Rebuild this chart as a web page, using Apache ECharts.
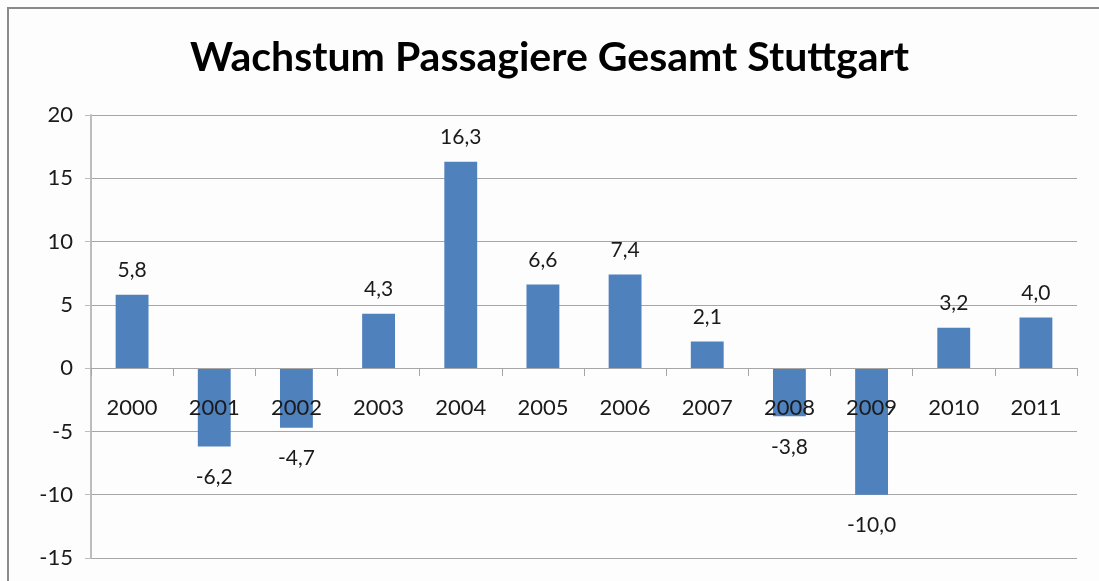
<!DOCTYPE html>
<html>
<head>
<meta charset="utf-8">
<script src="https://cdn.jsdelivr.net/npm/echarts@6/dist/echarts.min.js"></script>
<style>
  html, body { margin: 0; padding: 0; background: #fdfdfd; }
  #chart { width: 1099px; height: 581px; }
</style>
</head>
<body>
<div id="chart"></div>
<script>
// Jahre und Wachstum in Prozent
const years = ["2000", "2001", "2002", "2003", "2004", "2005", "2006", "2007", "2008", "2009", "2010", "2011"];
const growth = [5.8, -6.2, -4.7, 4.3, 16.3, 6.6, 7.4, 2.1, -3.8, -10.0, 3.2, 4.0];
const yTicks = [-15, -10, -5, 0, 5, 10, 15, 20];

const chart = echarts.init(document.getElementById("chart"));

const fmt = (v) => v.toFixed(1).replace(".", ",");

chart.setOption({
  backgroundColor: "#fdfdfd",
  animation: false,
  textStyle: { fontFamily: "Lato" },
  title: {
    text: "Wachstum Passagiere Gesamt Stuttgart",
    left: "center",
    top: 32,
    textStyle: { fontFamily: "Lato", fontWeight: "bold", fontSize: 41, color: "#000" },
  },
  graphic: [
    {
      type: "rect",
      shape: { x: 8, y: 8, width: 1200, height: 700 },
      style: { fill: "none", stroke: "#8a8a8a", lineWidth: 2 },
      silent: true,
    },
  ],
  grid: { left: 91, right: 22, top: 115, bottom: 23, outerBoundsMode: "none" },
  xAxis: {
    type: "category",
    data: years,
    offset: -190, // Achse auf Höhe der Null
    axisLine: { onZero: false, lineStyle: { color: "#a6a6a6", width: 1 } },
    axisTick: { show: true, length: 8, lineStyle: { color: "#a6a6a6" } },
    axisLabel: { fontSize: 22, color: "#1a1a1a", margin: 29 },
    z: 5,
  },
  yAxis: {
    type: "value",
    min: yTicks[0],
    max: yTicks[yTicks.length - 1],
    interval: 5,
    axisLine: { show: true, lineStyle: { color: "#bdbdbd", width: 2 } },
    axisTick: { show: true, length: 6, lineStyle: { color: "#bdbdbd" } },
    axisLabel: { fontSize: 22, color: "#1a1a1a", margin: 18 },
    splitLine: { lineStyle: { color: "#a6a6a6", width: 1 } },
  },
  series: [
    {
      type: "bar",
      barWidth: "40%",
      itemStyle: { color: "#4f81bd" },
      data: growth.map((v) => ({
        value: v,
        label: {
          show: true,
          position: v < 0 ? "bottom" : "top",
          distance: v < 0 ? 20 : 14,
        },
      })),
      label: {
        fontSize: 21,
        color: "#1a1a1a",
        formatter: (p) => fmt(p.value),
      },
      z: 2,
    },
  ],
});
</script>
</body>
</html>
